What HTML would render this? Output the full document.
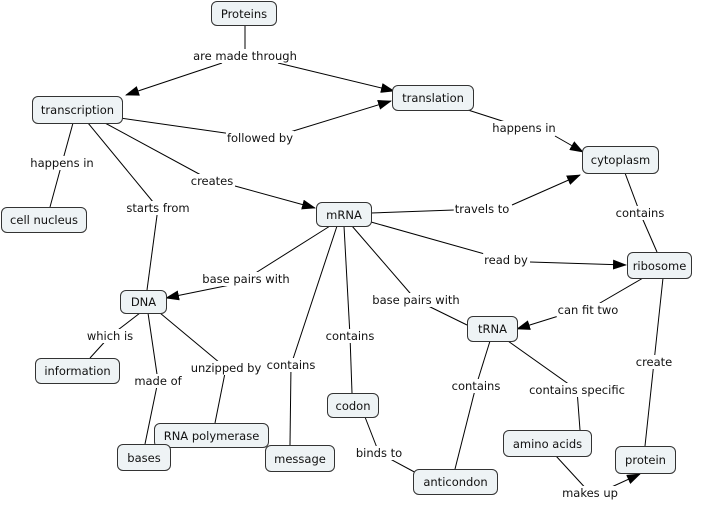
<!DOCTYPE html>
<html><head><style>
body{margin:0;width:701px;height:509px;background:#fff;position:relative;overflow:hidden;font-family:"DejaVu Sans","Liberation Sans",sans-serif;font-size:11.5px;color:#111}
.n{position:absolute;box-sizing:border-box;border:1px solid #333;border-radius:6px;background:#eef3f5;display:flex;align-items:center;justify-content:center;white-space:nowrap}
.l{position:absolute;transform:translate(-50%,-50%);background:#fff;white-space:nowrap;padding:0 1px;line-height:14px}
svg{position:absolute;left:0;top:0}
</style></head><body>
<svg width="701" height="509"><defs><marker id="a" markerWidth="14" markerHeight="10" refX="13" refY="5" orient="auto" markerUnits="userSpaceOnUse"><path d="M0,0L14,5L0,10z" fill="#000"/></marker></defs>
<g stroke="#000" stroke-width="1" fill="none">
<line x1="245" y1="25" x2="245" y2="55"/><line x1="222" y1="63" x2="126" y2="95" marker-end="url(#a)"/><line x1="278" y1="63" x2="394" y2="91" marker-end="url(#a)"/>
<line x1="120" y1="118" x2="260" y2="138"/><line x1="290" y1="132" x2="391" y2="101" marker-end="url(#a)"/>
<line x1="73" y1="123" x2="62" y2="163"/><line x1="62" y1="163" x2="50" y2="207"/>
<line x1="88" y1="123" x2="158" y2="208"/><line x1="158" y1="208" x2="147" y2="290"/>
<line x1="105" y1="123" x2="212" y2="181"/><line x1="235" y1="186" x2="315" y2="208" marker-end="url(#a)"/>
<line x1="468" y1="110" x2="524" y2="128"/><line x1="555" y1="136" x2="583" y2="152" marker-end="url(#a)"/>
<line x1="371" y1="213" x2="482" y2="209"/><line x1="512" y1="205" x2="580" y2="175" marker-end="url(#a)"/>
<line x1="625" y1="173" x2="640" y2="213"/><line x1="640" y1="213" x2="657" y2="252"/>
<line x1="371" y1="222" x2="506" y2="260"/><line x1="530" y1="262" x2="626" y2="265" marker-end="url(#a)"/>
<line x1="330" y1="226" x2="246" y2="279"/><line x1="230" y1="285" x2="166" y2="298" marker-end="url(#a)"/>
<line x1="337" y1="226" x2="291" y2="365"/><line x1="291" y1="365" x2="290" y2="445"/>
<line x1="344" y1="226" x2="350" y2="336"/><line x1="350" y1="336" x2="352" y2="393"/>
<line x1="352" y1="226" x2="416" y2="300"/><line x1="416" y1="300" x2="467" y2="325"/>
<line x1="643" y1="278" x2="588" y2="310"/><line x1="565" y1="314" x2="517" y2="329" marker-end="url(#a)"/>
<line x1="663" y1="278" x2="654" y2="362"/><line x1="654" y1="362" x2="645" y2="446"/>
<line x1="490" y1="341" x2="476" y2="386"/><line x1="476" y1="386" x2="455" y2="469"/>
<line x1="508" y1="341" x2="577" y2="390"/><line x1="577" y1="390" x2="580" y2="430"/>
<line x1="140" y1="313" x2="110" y2="336"/><line x1="110" y1="336" x2="90" y2="358"/>
<line x1="148" y1="313" x2="158" y2="381"/><line x1="158" y1="381" x2="145" y2="444"/>
<line x1="160" y1="313" x2="226" y2="368"/><line x1="226" y1="368" x2="215" y2="423"/>
<line x1="365" y1="417" x2="379" y2="453"/><line x1="379" y1="453" x2="420" y2="475"/>
<line x1="556" y1="456" x2="590" y2="493"/><line x1="605" y1="490" x2="640" y2="474" marker-end="url(#a)"/>
</g></svg>
<div class="l" style="left:245px;top:56px">are made through</div>
<div class="l" style="left:260px;top:138px">followed by</div>
<div class="l" style="left:62px;top:163px">happens in</div>
<div class="l" style="left:158px;top:208px">starts from</div>
<div class="l" style="left:212px;top:181px">creates</div>
<div class="l" style="left:524px;top:128px">happens in</div>
<div class="l" style="left:482px;top:209px">travels to</div>
<div class="l" style="left:640px;top:213px">contains</div>
<div class="l" style="left:506px;top:260px">read by</div>
<div class="l" style="left:246px;top:279px">base pairs with</div>
<div class="l" style="left:291px;top:365px">contains</div>
<div class="l" style="left:350px;top:336px">contains</div>
<div class="l" style="left:416px;top:300px">base pairs with</div>
<div class="l" style="left:588px;top:310px">can fit two</div>
<div class="l" style="left:654px;top:362px">create</div>
<div class="l" style="left:476px;top:386px">contains</div>
<div class="l" style="left:577px;top:390px">contains specific</div>
<div class="l" style="left:110px;top:336px">which is</div>
<div class="l" style="left:158px;top:381px">made of</div>
<div class="l" style="left:226px;top:368px">unzipped by</div>
<div class="l" style="left:379px;top:453px">binds to</div>
<div class="l" style="left:590px;top:493px">makes up</div>
<div class="n" style="left:211px;top:1px;width:66px;height:25px">Proteins</div>
<div class="n" style="left:32px;top:96px;width:91px;height:28px">transcription</div>
<div class="n" style="left:392px;top:85px;width:82px;height:26px">translation</div>
<div class="n" style="left:582px;top:146px;width:77px;height:28px">cytoplasm</div>
<div class="n" style="left:1px;top:207px;width:86px;height:26px">cell nucleus</div>
<div class="n" style="left:316px;top:202px;width:56px;height:25px">mRNA</div>
<div class="n" style="left:627px;top:252px;width:65px;height:27px">ribosome</div>
<div class="n" style="left:120px;top:290px;width:47px;height:24px">DNA</div>
<div class="n" style="left:467px;top:316px;width:51px;height:26px">tRNA</div>
<div class="n" style="left:35px;top:358px;width:85px;height:26px">information</div>
<div class="n" style="left:327px;top:393px;width:52px;height:25px">codon</div>
<div class="n" style="left:154px;top:423px;width:115px;height:25px">RNA polymerase</div>
<div class="n" style="left:503px;top:430px;width:89px;height:27px">amino acids</div>
<div class="n" style="left:117px;top:444px;width:54px;height:27px">bases</div>
<div class="n" style="left:265px;top:445px;width:70px;height:27px">message</div>
<div class="n" style="left:615px;top:446px;width:61px;height:28px">protein</div>
<div class="n" style="left:413px;top:469px;width:85px;height:26px">anticondon</div>
</body></html>
